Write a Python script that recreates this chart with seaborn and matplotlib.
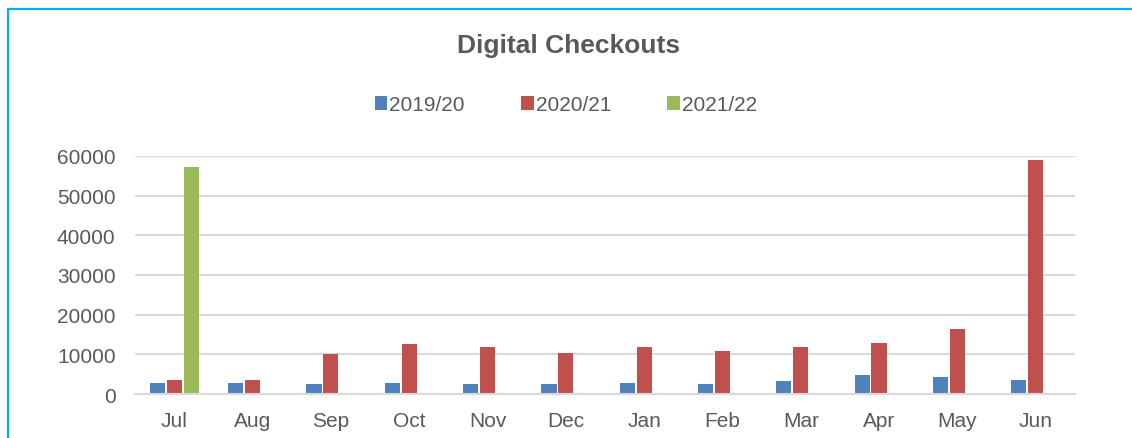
import seaborn as sns
import matplotlib.pyplot as plt
from matplotlib.lines import Line2D
import pandas as pd

months = ["Jul", "Aug", "Sep", "Oct", "Nov", "Dec", "Jan", "Feb", "Mar", "Apr", "May", "Jun"]
seasons = ["2019/20", "2020/21", "2021/22"]
checkouts_1920 = [2750, 2650, 2400, 2750, 2500, 2600, 2800, 2400, 3250, 4750, 4400, 3650]
checkouts_2021 = [3500, 3575, 10000, 12650, 11800, 10250, 11800, 10750, 11750, 12750, 16400, 58900]
checkouts_2122 = [57300, None, None, None, None, None, None, None, None, None, None, None]
colors = ["#4F81BD", "#C0504D", "#9BBB59"]

df = pd.DataFrame({
    "month": months,
    "2019/20": checkouts_1920,
    "2020/21": checkouts_2021,
    "2021/22": checkouts_2122,
})
df = df.melt(id_vars="month", var_name="season", value_name="checkouts").dropna()

grey = "#595959"
sns.set_theme(style="white")
plt.rcParams["font.family"] = ["Liberation Sans", "DejaVu Sans"]

fig = plt.figure(figsize=(11.32, 4.39), dpi=100)
ax = fig.add_axes([0.1193, 0.1002, 0.8303, 0.5422])

sns.barplot(
    ax=ax,
    data=df,
    x="month",
    y="checkouts",
    hue="season",
    order=months,
    hue_order=seasons,
    palette=colors,
    width=0.65,
    gap=0.1,
    errorbar=None,
    saturation=1,
    linewidth=0,
)

ax.set_ylim(0, 60000)
ax.set_yticks(range(0, 60001, 10000))
ax.yaxis.grid(True, color="#D9D9D9", linewidth=1.5)
ax.set_axisbelow(True)
for side in ["left", "right", "top"]:
    ax.spines[side].set_visible(False)
ax.spines["bottom"].set_color("#D9D9D9")
ax.spines["bottom"].set_linewidth(1.5)
ax.set_xlabel("")
ax.set_ylabel("")
ax.tick_params(axis="y", length=0, pad=14, labelsize=15, labelcolor=grey)
ax.tick_params(axis="x", length=0, pad=12, labelsize=15, labelcolor=grey)

handles, labels = ax.get_legend_handles_labels()
ax.get_legend().remove()
fig.legend(
    handles, labels, loc="center", bbox_to_anchor=(0.5, 0.759), ncol=3,
    frameon=False, fontsize=15, labelcolor=grey,
    handlelength=0.6, handleheight=0.6, handletextpad=0.1, columnspacing=2.7,
)

fig.text(0.502, 0.895, "Digital Checkouts", ha="center", va="center",
         fontsize=19, fontweight="bold", color=grey)

# light blue frame around the chart (left and top edges visible)
fig.add_artist(Line2D([8 / 1132, 8 / 1132], [0, 1 - 10 / 439], color="#00B0F0", linewidth=1.6))
fig.add_artist(Line2D([8 / 1132, 1], [1 - 10 / 439, 1 - 10 / 439], color="#00B0F0", linewidth=1.6))

plt.savefig("out.png", dpi=100)
